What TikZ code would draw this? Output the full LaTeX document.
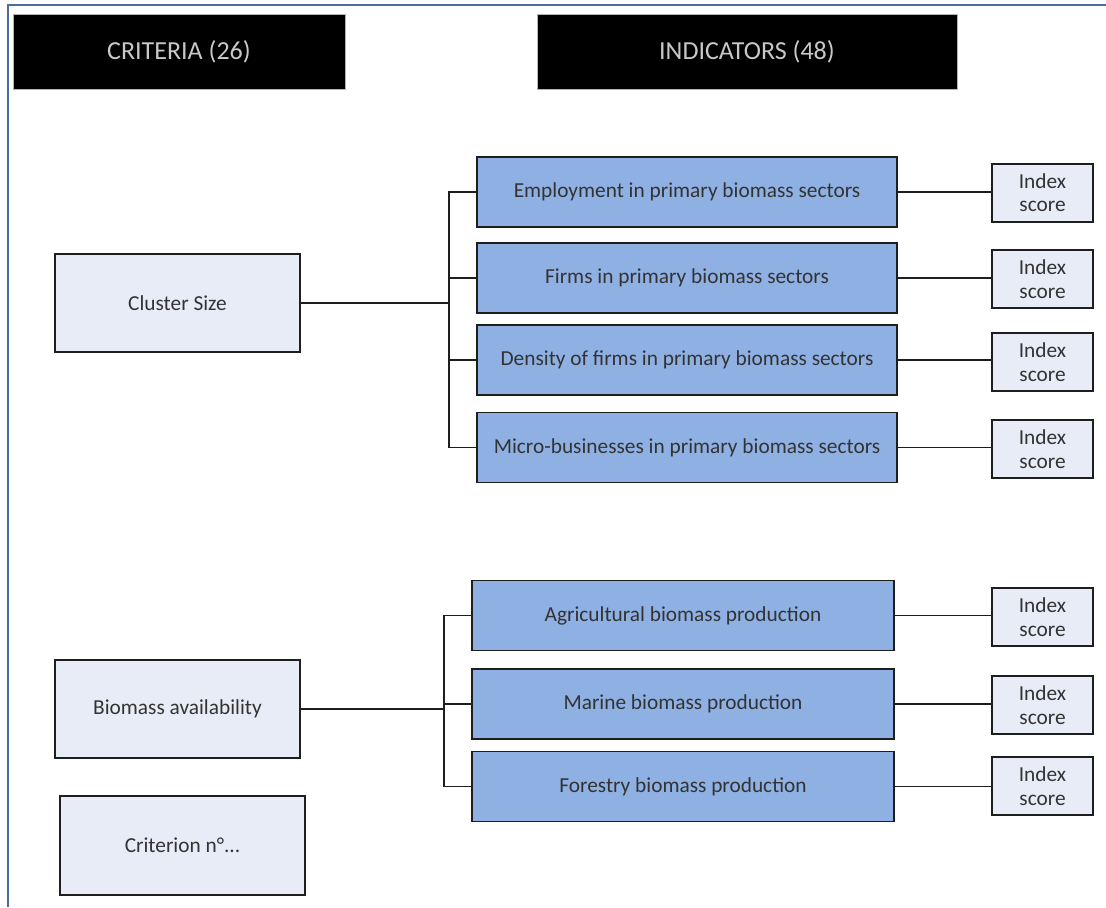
\documentclass[tikz,border=0pt]{standalone}
\usepackage{fontspec}
\setmainfont{Carlito}
\definecolor{framecol}{HTML}{4F6D9A}
\definecolor{lightfill}{HTML}{E7ECF7}
\definecolor{indfill}{HTML}{8EB0E3}
\definecolor{txtcol}{HTML}{333333}
\definecolor{headtxt}{HTML}{C8C8C8}
\definecolor{edgecol}{HTML}{1E1E1E}
\def\u{0.75pt}
\tikzset{
  head/.style={draw=gray!60, fill=black, text=headtxt, font=\fontsize{19.5}{22}\selectfont, line width=0.6pt, inner sep=0pt},
  crit/.style={draw=edgecol, fill=lightfill, text=txtcol, font=\fontsize{16}{19}\selectfont, line width=1.3pt, inner sep=0pt, minimum width=245*\u, minimum height=98*\u},
  ind/.style={draw=edgecol, fill=indfill, text=txtcol, font=\fontsize{16}{19}\selectfont, line width=1.3pt, inner sep=0pt, minimum height=70*\u},
  idx/.style={draw=edgecol, fill=lightfill, text=txtcol, font=\fontsize{16}{17.5}\selectfont, line width=1.3pt, inner sep=0pt, minimum width=101*\u, minimum height=58*\u, align=center},
  link/.style={draw=edgecol, line width=1.1pt}
}
\begin{document}
\begin{tikzpicture}[x=0.75pt,y=-0.75pt]
\useasboundingbox (0,0) rectangle (1106,907);
\draw[framecol, line width=1.3pt] (8,907) -- (8,5) -- (1106,5);

\node[head, minimum width=332*\u, minimum height=75*\u] (crithead) at (179,51.5) {CRITERIA (26)};
\node[head, minimum width=420*\u, minimum height=75*\u] (indhead) at (747,51.5) {INDICATORS (48)};

\node[crit] (cs) at (177.5,303) {Cluster Size};
\node[crit] (ba) at (177.5,709) {Biomass availability};
\node[crit, minimum height=99*\u] (cn) at (182.5,845.5) {Criterion n°...};

\node[ind, minimum width=420*\u] (i1) at (687,192) {Employment in primary biomass sectors};
\node[ind, minimum width=420*\u] (i2) at (687,278) {Firms in primary biomass sectors};
\node[ind, minimum width=420*\u] (i3) at (687,360) {Density of firms in primary biomass sectors};
\node[ind, minimum width=420*\u] (i4) at (687,447.5) {Micro-businesses in primary biomass sectors};

\node[ind, minimum width=422*\u] (j1) at (683,615.5) {Agricultural biomass production};
\node[ind, minimum width=422*\u] (j2) at (683,704) {Marine biomass production};
\node[ind, minimum width=422*\u] (j3) at (683,786.5) {Forestry biomass production};

\node[idx] (s1) at (1042.5,193) {Index\\score};
\node[idx] (s2) at (1042.5,279) {Index\\score};
\node[idx] (s3) at (1042.5,362) {Index\\score};
\node[idx] (s4) at (1042.5,449) {Index\\score};
\node[idx] (s5) at (1042.5,617) {Index\\score};
\node[idx] (s6) at (1042.5,705) {Index\\score};
\node[idx] (s7) at (1042.5,786) {Index\\score};

\coordinate (t1) at (449,303);
\coordinate (t2) at (444,709);
\draw[link] (cs.east) -- (t1);
\foreach \n in {i1,i2,i3,i4} \draw[link] (\n.west) -| (t1);
\draw[link] (ba.east) -- (t2);
\foreach \n in {j1,j2,j3} \draw[link] (\n.west) -| (t2);

\draw[link] (i1.east) -- (s1.west |- i1.east);
\draw[link] (i2.east) -- (s2.west |- i2.east);
\draw[link] (i3.east) -- (s3.west |- i3.east);
\draw[link] (i4.east) -- (s4.west |- i4.east);
\draw[link] (j1.east) -- (s5.west |- j1.east);
\draw[link] (j2.east) -- (s6.west |- j2.east);
\draw[link] (j3.east) -- (s7.west |- j3.east);
\end{tikzpicture}
\end{document}
